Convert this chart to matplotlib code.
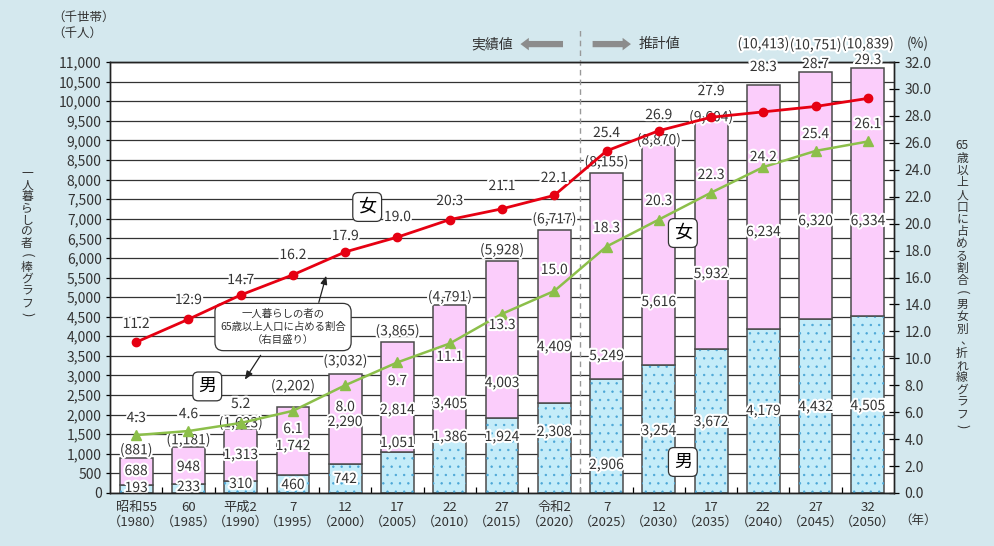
import matplotlib.pyplot as plt
import matplotlib.patheffects as pe
import numpy as np

plt.rcParams['font.family'] = ['Noto Sans CJK JP', 'DejaVu Sans']
plt.rcParams['hatch.linewidth'] = 0.5

# ---------------- data ----------------
years = ['昭和55\n（1980）', '60\n（1985）', '平成2\n（1990）', '7\n（1995）', '12\n（2000）',
         '17\n（2005）', '22\n（2010）', '27\n（2015）', '令和2\n（2020）', '7\n（2025）',
         '12\n（2030）', '17\n（2035）', '22\n（2040）', '27\n（2045）', '32\n（2050）']
male = [193, 233, 310, 460, 742, 1051, 1386, 1924, 2308, 2906, 3254, 3672, 4179, 4432, 4505]
female = [688, 948, 1313, 1742, 2290, 2814, 3405, 4003, 4409, 5249, 5616, 5932, 6234, 6320, 6334]
total = [881, 1181, 1623, 2202, 3032, 3865, 4791, 5928, 6717, 8155, 8870, 9604, 10413, 10751, 10839]
female_pct = [11.2, 12.9, 14.7, 16.2, 17.9, 19.0, 20.3, 21.1, 22.1, 25.4, 26.9, 27.9, 28.3, 28.7, 29.3]
male_pct = [4.3, 4.6, 5.2, 6.1, 8.0, 9.7, 11.1, 13.3, 15.0, 18.3, 20.3, 22.3, 24.2, 25.4, 26.1]

# label placement (layout only)
male_lab_y = [128, 153, 230, 204, 357, 1276, 1429, 1429, 1557, 715, 1582, 1812, 2093, 2195, 2220]
female_lab_y = [561, 664, 970, 1199, 1812, 2118, 2271, 2807, 3726, 3496, 4874, 5589, 6661, 6941, 6941]
total_lab_y = [1097, 1353, 1786, 2731, 3369, 4134, 5002, 6201, 6992, 8447, 9009, 9596, 11459, 11433, 11459]
fpct_lab_y = [12.55, 14.33, 15.81, 17.67, 19.08, 20.49, 21.68, 22.79, 23.39, 26.73, 28.06, 29.84, 31.63, 31.85, 32.15]
mpct_lab_y = [5.57, 5.86, 6.61, 4.75, 6.38, 8.31, 10.10, 12.47, 16.56, 19.67, 21.68, 23.61, 24.94, 26.65, 27.39]

bg = '#d4e8ee'
pink = '#fbcdfb'
cyan = '#c4ecf9'
red = '#e60012'
green = '#8cbf4a'
edge = '#4a4a4a'

fig = plt.figure(figsize=(9.95, 5.46), dpi=100, facecolor=bg)
ax = fig.add_axes([0.1106, 0.0971, 0.7879, 0.7893])
ax.set_facecolor('white')
ax2 = ax.twinx()

x = np.arange(len(years))
halo = [pe.withStroke(linewidth=3, foreground='white')]

ax.bar(x, male, width=0.63, color=cyan, edgecolor=edge, lw=1.1, zorder=2)
ax.bar(x, male, width=0.63, facecolor='none', edgecolor='#4aa6d6', hatch='..', lw=0, zorder=2)
ax.bar(x, female, bottom=male, width=0.63, color=pink, edgecolor=edge, lw=1.1, zorder=2)

ax.set_xlim(-0.5, 14.5)
ax.set_ylim(0, 11000)
ax.set_yticks(np.arange(0, 11001, 500))
ax.set_yticklabels([f'{v:,}' for v in range(0, 11001, 500)], fontsize=10, color='#333333')
ax.yaxis.grid(True, color='#333333', lw=0.9)
ax.set_axisbelow(True)
ax.tick_params(axis='y', direction='out', length=3, width=0.9, pad=3)
ax.set_xticks(x)
ax.set_xticklabels(years, fontsize=9.5, linespacing=1.15, color='#333333')
ax.tick_params(axis='x', length=0, pad=6)
ax.set_xticks(x[:-1] + 0.5, minor=True)
ax.tick_params(axis='x', which='minor', direction='in', length=4, width=0.9)

for i in x:
    ax.text(i, male_lab_y[i], f'{male[i]:,}', ha='center', va='center', fontsize=10,
            color='#333333', path_effects=halo, zorder=5)
    ax.text(i, female_lab_y[i], f'{female[i]:,}', ha='center', va='center', fontsize=10,
            color='#333333', path_effects=halo, zorder=5)
    ax.text(i, total_lab_y[i], f'({total[i]:,})', ha='center', va='center', fontsize=10,
            color='#333333', path_effects=halo, zorder=5, clip_on=False)

ax2.plot(x, female_pct, color=red, lw=2, marker='o', ms=6, zorder=3)
ax2.plot(x, male_pct, color=green, lw=1.8, marker='^', ms=7, zorder=3)
ax2.set_ylim(0, 32)
ax2.set_yticks(np.arange(0, 32.1, 2))
ax2.set_yticklabels([f'{v:.1f}' for v in np.arange(0, 32.1, 2)], fontsize=10, color='#333333')
ax2.tick_params(axis='y', direction='inout', length=7, width=0.9, pad=4)
for i in x:
    ax2.text(i, fpct_lab_y[i], f'{female_pct[i]:.1f}', ha='center', va='center', fontsize=10,
             color='#333333', path_effects=halo, zorder=6, clip_on=False)
    ax2.text(i, mpct_lab_y[i], f'{male_pct[i]:.1f}', ha='center', va='center', fontsize=10,
             color='#333333', path_effects=halo, zorder=6)

for a in (ax, ax2):
    for s in a.spines.values():
        s.set_color('#222222')
        s.set_linewidth(1)

# divider between actual and projected values
ax.plot([8.5, 8.5], [0, 11816], ls=(0, (4, 3)), color='#999999', lw=1, clip_on=False, zorder=4)
ax.annotate('', xy=(7.3, 11458), xytext=(8.22, 11458), annotation_clip=False,
            arrowprops=dict(arrowstyle='simple,head_width=0.9,head_length=0.6,tail_width=0.45',
                            color='#8c8c8c', lw=0))
ax.annotate('', xy=(9.52, 11458), xytext=(8.68, 11458), annotation_clip=False,
            arrowprops=dict(arrowstyle='simple,head_width=0.9,head_length=0.6,tail_width=0.45',
                            color='#8c8c8c', lw=0))
ax.text(7.2, 11458, '実績値', ha='right', va='center', fontsize=10, color='#333333')
ax.text(9.62, 11458, '推計値', ha='left', va='center', fontsize=10, color='#333333')

# annotation boxes
box = dict(boxstyle='round,pad=0.3,rounding_size=0.3', fc='white', ec='#333333', lw=0.9)
ax.text(4.42, 7300, '女', ha='center', va='center', fontsize=13, bbox=box, zorder=7)
ax.text(10.46, 6635, '女', ha='center', va='center', fontsize=13, bbox=box, zorder=7)
ax.text(1.36, 2720, '男', ha='center', va='center', fontsize=13, bbox=box, zorder=7)
ax.text(10.46, 791, '男', ha='center', va='center', fontsize=13, bbox=box, zorder=7)

ax.text(2.81, 4236, '一人暮らしの者の\n65歳以上人口に占める割合\n（右目盛り）', ha='center', va='center',
        fontsize=7.5, linespacing=1.4, color='#333333', zorder=7,
        bbox=dict(boxstyle='round,pad=0.5,rounding_size=0.8', fc='white', ec='#333333', lw=0.9))
ax.annotate('', xy=(3.65, 5614), xytext=(3.48, 4798),
            arrowprops=dict(arrowstyle='-|>,head_width=0.2,head_length=0.5', color='#222222', lw=0.9))
ax.annotate('', xy=(2.05, 2833), xytext=(2.41, 3573),
            arrowprops=dict(arrowstyle='-|>,head_width=0.2,head_length=0.5', color='#222222', lw=0.9))

# axis titles
fig.text(52 / 995, 1 - 25 / 546, '（千世帯）\n（千人）', ha='left', va='center', fontsize=9,
         linespacing=1.3, color='#333333')
fig.text(918 / 995, 1 - 44 / 546, '(%)', ha='center', va='center', fontsize=10, color='#333333')
fig.text(918 / 995, 1 - 520 / 546, '（年）', ha='center', va='center', fontsize=9, color='#333333')


def vertical_text(chars, xpix, ytop, step, size=8.5):
    # stack characters top to bottom, turning brackets as in vertical writing
    for k, c in enumerate(chars):
        rot = -90 if c in '()' else 0
        dx = 4 if c == '、' else 0
        fig.text((xpix + dx) / 995, 1 - (ytop + k * step) / 546, c, ha='center', va='center',
                 fontsize=size + (1 if c in '()' else 0), rotation=rot, color='#333333')


vertical_text(list('一人暮らしの者(棒グラフ)'), 27, 173, 11.8)
vertical_text(['65'] + list('歳以上人口に占める割合(男女別、折れ線グラフ)'), 962, 146, 12.2)

fig.savefig('out.png', dpi=100, facecolor=bg)
